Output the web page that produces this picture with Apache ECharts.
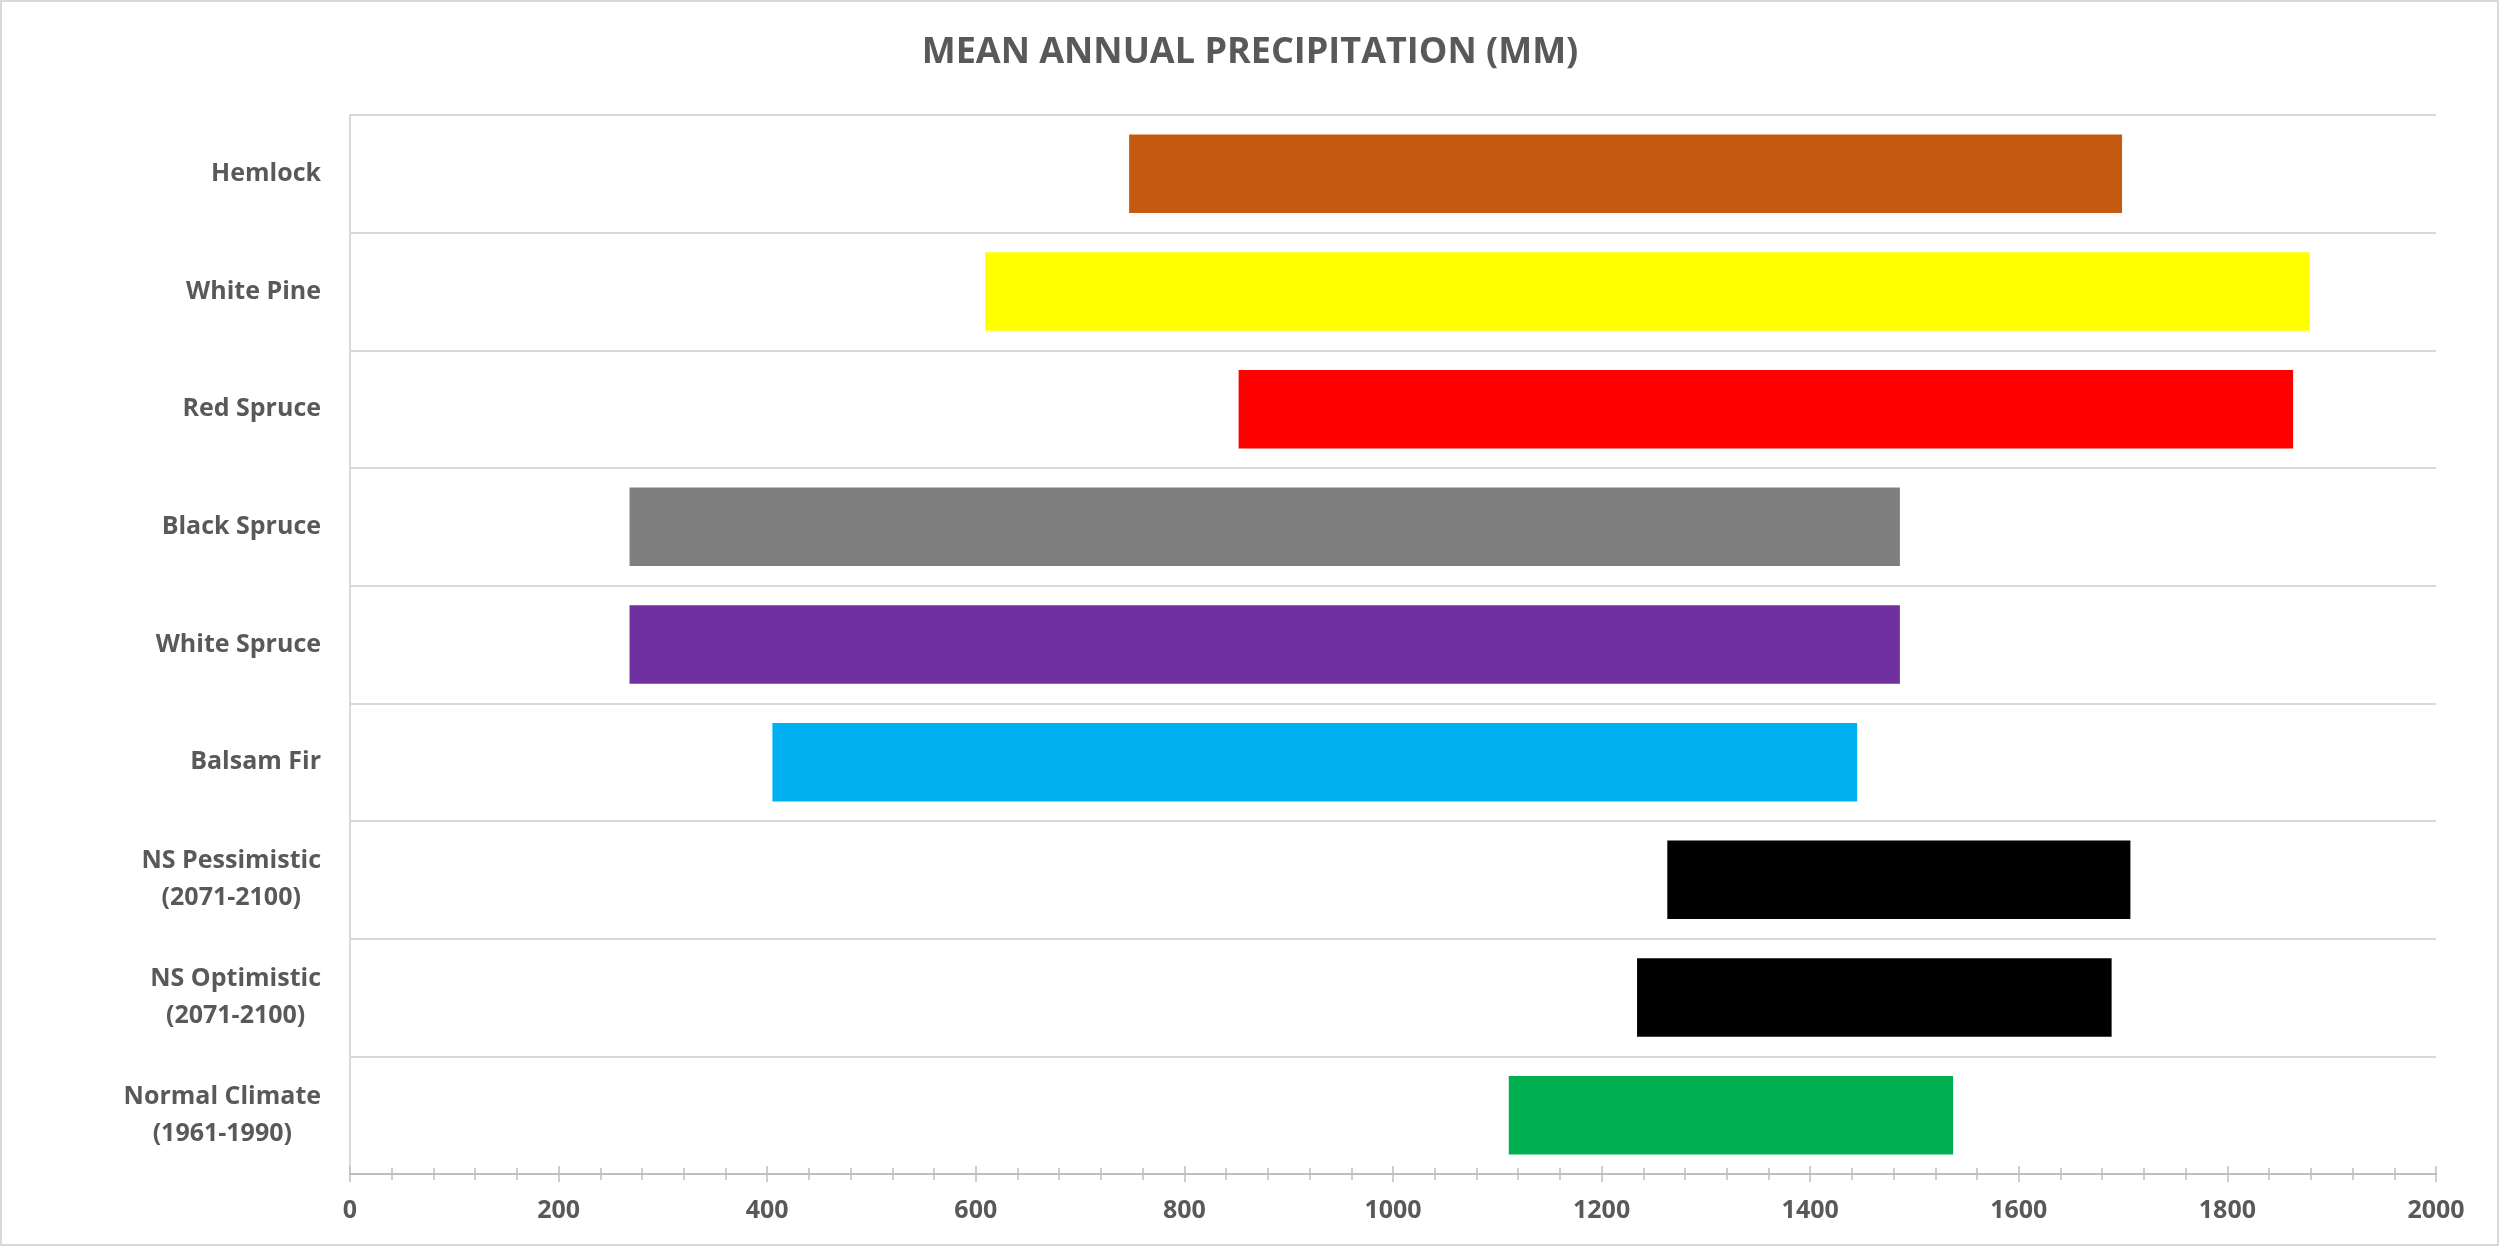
<!DOCTYPE html>
<html lang="en">
<head>
    <meta charset="UTF-8">
    <title>Mean Annual Precipitation</title>
    <script src="https://cdn.jsdelivr.net/npm/echarts@6/dist/echarts.min.js"></script>
    <style>
        html, body {
            margin: 0;
            padding: 0;
            background: #fff;
        }
        #chart {
            width: 2500px;
            height: 1247px;
        }
    </style>
</head>
<body>
<div id="chart"></div>
<script>
    // species / scenarios, top to bottom
    var categories = ['Hemlock', 'White Pine', 'Red Spruce', 'Black Spruce', 'White Spruce',
        'Balsam Fir', 'NS Pessimistic\n(2071-2100)', 'NS Optimistic\n(2071-2100)', 'Normal Climate\n(1961-1990)'];
    // lower and upper precipitation limits (mm)
    var lows = [747, 609, 852, 268, 268, 405, 1263, 1234, 1111];
    var highs = [1699, 1879, 1863, 1486, 1486, 1445, 1707, 1689, 1537];
    var colors = ['#c55a11', '#ffff00', '#ff0000', '#7f7f7f', '#7030a0', '#00b0f0', '#000000', '#000000', '#00b050'];
    var xTicks = [0, 200, 400, 600, 800, 1000, 1200, 1400, 1600, 1800, 2000];

    var spans = [];
    for (var i = 0; i < lows.length; i++) {
        spans.push({value: highs[i] - lows[i], itemStyle: {color: colors[i]}});
    }

    var textColor = '#595959';
    var fontFam = '"Open Sans", "Noto Sans", sans-serif';

    function valueAxis(inside, showLabel) {
        return {
            type: 'value',
            min: xTicks[0],
            max: xTicks[xTicks.length - 1],
            interval: xTicks[1] - xTicks[0],
            position: 'bottom',
            axisLine: {show: true, lineStyle: {color: '#bfbfbf', width: 2}},
            axisTick: {show: true, inside: inside, length: 8, lineStyle: {color: '#bfbfbf', width: 1.5}},
            minorTick: {show: true, splitNumber: 5, length: 6, lineStyle: {color: '#bfbfbf', width: 1.5}},
            splitLine: {show: false},
            axisLabel: {
                show: showLabel,
                margin: 24,
                color: textColor,
                fontFamily: fontFam,
                fontWeight: 'bold',
                fontSize: 25,
                formatter: function (v) { return String(v); }
            }
        };
    }

    var option = {
        animation: false,
        backgroundColor: '#fff',
        title: {
            text: 'MEAN ANNUAL PRECIPITATION (MM)',
            left: 'center',
            top: 30,
            textStyle: {
                color: textColor,
                fontFamily: fontFam,
                fontWeight: 'bold',
                fontSize: 36
            }
        },
        graphic: [{
            type: 'rect',
            shape: {x: 1, y: 1, width: 2497, height: 1244},
            style: {fill: null, stroke: '#d9d9d9', lineWidth: 2},
            silent: true
        }],
        grid: {
            left: 350,
            right: 64,
            top: 115,
            bottom: 73
        },
        xAxis: [valueAxis(false, true), valueAxis(true, false)],
        yAxis: {
            type: 'category',
            data: categories,
            inverse: true,
            axisLine: {show: true, lineStyle: {color: '#d9d9d9', width: 2}},
            axisTick: {show: false},
            splitLine: {show: true, lineStyle: {color: '#d9d9d9', width: 2}},
            axisLabel: {
                margin: 29,
                align: 'right',
                // lines centred on each other, block right-aligned to the axis
                formatter: function (v) {
                    return v.split('\n').map(function (s) { return '{c|' + s + '}'; }).join('\n');
                },
                rich: {
                    c: {
                        align: 'center',
                        color: textColor,
                        fontFamily: fontFam,
                        fontWeight: 'bold',
                        fontSize: 25,
                        lineHeight: 37
                    }
                }
            }
        },
        series: [
            {
                name: 'base',
                type: 'bar',
                stack: 'range',
                barWidth: '66.7%',
                silent: true,
                itemStyle: {color: 'transparent'},
                data: lows
            },
            {
                name: 'range',
                type: 'bar',
                stack: 'range',
                barWidth: '66.7%',
                data: spans
            }
        ]
    };

    var myChart = echarts.init(document.getElementById('chart'));
    myChart.setOption(option);
    window.addEventListener('resize', function () {
        myChart.resize();
    });
</script>
</body>
</html>
